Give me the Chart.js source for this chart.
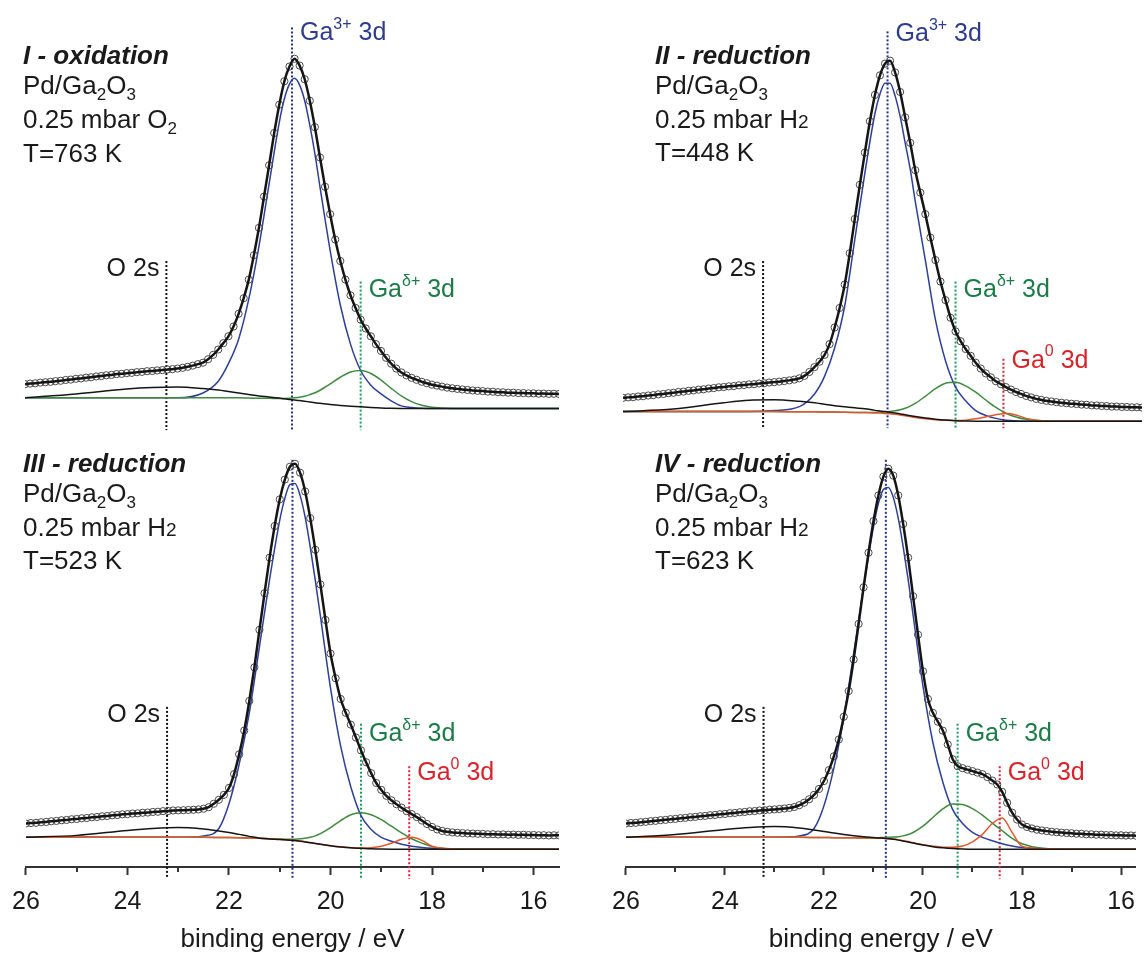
<!DOCTYPE html>
<html>
<head>
<meta charset="utf-8">
<title>Ga 3d region</title>
<script src="https://cdn.jsdelivr.net/npm/chart.js@4.4.1/dist/chart.umd.min.js"></script>
<style>
  html, body { margin: 0; padding: 0; background: #fff; }
  body { width: 1147px; height: 955px; position: relative; overflow: hidden;
         font-family: "Liberation Sans", Arial, sans-serif; color: #1a1a1a; }
  canvas { position: absolute; }
  .info { position: absolute; font-size: 26px; line-height: 30px; white-space: nowrap; }
  .info b { font-style: italic; }
  .info .sb { font-size: 17px; position: relative; top: 6px; }
  .info .sm { font-size: 19px; }
</style>
</head>
<body>
<canvas id="c1" width="575" height="440" style="left:0;top:0"></canvas>
<canvas id="c2" width="547" height="440" style="left:600px;top:0"></canvas>
<canvas id="c3" width="575" height="515" style="left:0;top:440px"></canvas>
<canvas id="c4" width="547" height="515" style="left:600px;top:440px"></canvas>

<div class="info" style="left:23px;top:40px"><b>I - oxidation</b><br>Pd/Ga<span class="sb">2</span>O<span class="sb">3</span><br>0.25 mbar O<span class="sb">2</span><br>T=763 K</div>
<div class="info" style="left:655px;top:40px"><b>II - reduction</b><br>Pd/Ga<span class="sb">2</span>O<span class="sb">3</span><br>0.25 mbar H<span class="sm">2</span><br>T=448 K</div>
<div class="info" style="left:23px;top:448px"><b>III - reduction</b><br>Pd/Ga<span class="sb">2</span>O<span class="sb">3</span><br>0.25 mbar H<span class="sm">2</span><br>T=523 K</div>
<div class="info" style="left:655px;top:448px"><b>IV - reduction</b><br>Pd/Ga<span class="sb">2</span>O<span class="sb">3</span><br>0.25 mbar H<span class="sm">2</span><br>T=623 K</div>

<script>
// binding energy of the measured points (eV)
const dataX = [26.0, 25.9, 25.8, 25.7, 25.6, 25.5, 25.4, 25.3, 25.2, 25.1,
  25.0, 24.9, 24.8, 24.7, 24.6, 24.5, 24.4, 24.3, 24.2, 24.1,
  24.0, 23.9, 23.8, 23.7, 23.6, 23.5, 23.4, 23.3, 23.2, 23.1,
  23.0, 22.9, 22.8, 22.7, 22.6, 22.5, 22.4, 22.3, 22.2, 22.1,
  22.0, 21.9, 21.8, 21.7, 21.6, 21.5, 21.4, 21.3, 21.2, 21.1,
  21.0, 20.9, 20.8, 20.7, 20.6, 20.5, 20.4, 20.3, 20.2, 20.1,
  20.0, 19.9, 19.8, 19.7, 19.6, 19.5, 19.4, 19.3, 19.2, 19.1,
  19.0, 18.9, 18.8, 18.7, 18.6, 18.5, 18.4, 18.3, 18.2, 18.1,
  18.0, 17.9, 17.8, 17.7, 17.6, 17.5, 17.4, 17.3, 17.2, 17.1,
  17.0, 16.9, 16.8, 16.7, 16.6, 16.5, 16.4, 16.3, 16.2, 16.1,
  16.0, 15.9, 15.8, 15.7, 15.6, 15.5];

// binding energy of the fitted component curves (eV)
const compX = [26, 25, 24, 23.5, 23, 22.5, 22.2, 22, 21.8, 21.6, 21.4, 21.2, 21, 20.9, 20.8, 20.7,
  20.6, 20.5, 20.4, 20.3, 20.2, 20, 19.8, 19.6, 19.4, 19.2, 19, 18.8, 18.6, 18.4, 18.2, 18, 17.6, 17, 15.5];

// I - oxidation
const dataI = [25, 25.6, 25.9, 26.6, 27, 27.4, 28.1, 28.5, 29.3, 29.7,
  30.5, 30.9, 31.7, 32.1, 32.9, 33.3, 34.1, 34.5, 35.3, 35.6,
  36.3, 36.6, 37.3, 37.6, 38.3, 38.5, 39.1, 39.4, 40.1, 40.4,
  41, 41.8, 42.8, 44, 45.5, 47, 50.5, 55, 60.5, 67,
  74, 84, 97, 113, 132, 157, 185, 217, 249, 282,
  311, 335, 350, 358, 351, 337, 315, 288, 257, 227,
  199, 173, 151, 132, 116, 103, 91, 82, 74, 66,
  59, 52, 46, 41, 37, 34, 31.5, 29.5, 27.5, 26,
  24.5, 23.5, 22.5, 21.5, 20.8, 20.2, 19.6, 19.1, 18.6, 18.2,
  17.9, 17.4, 17.3, 16.8, 16.7, 16.3, 16.3, 15.9, 15.9, 15.6,
  15.6, 15.3, 15.4, 15.1, 15.2, 15];
const blueI = [11, 11, 11, 11, 11, 16, 28, 46, 71, 112, 166, 230, 293, 317, 332, 338,
  331, 315, 290, 261, 227, 162, 106, 66, 39, 24, 15, 8, 2.8, 1.1, 0.3, 0, 0, 0, 0];
const greenI = [11, 11, 11, 11, 11, 11, 11, 11, 11, 10.8, 10.6, 10.5, 10.3, 10.4, 10.6, 11,
  11.6, 12.7, 14.3, 16.2, 18.8, 25.2, 32.1, 37.4, 38.9, 35.9, 29.2, 20.8, 13.1, 7.2, 3.4, 1.5, 0.2, 0, 0];
const o2sI = [11, 15, 20, 21.5, 22, 20.5, 19, 17.5, 16, 14.5, 13, 12, 10.8, 10, 9.4, 8.8,
  8.2, 7.5, 6.8, 6.1, 5.4, 4.3, 3.3, 2.5, 1.8, 1.2, 0.7, 0.4, 0.2, 0.1, 0, 0, 0, 0, 0];

// II - reduction 448 K
const dataII = [24, 24.5, 24.7, 25.4, 25.7, 26.4, 26.8, 27.6, 28, 28.8,
  29.2, 30, 30.4, 31.2, 31.6, 32.4, 32.8, 33.6, 34, 34.8,
  35.1, 35.8, 36.1, 36.8, 37.1, 37.8, 38, 38.7, 39, 39.7,
  40.1, 40.6, 41.2, 41.9, 42.7, 44, 46.5, 50.5, 55.5, 61,
  68, 79, 96, 116, 140, 172, 207, 242, 275, 307,
  334, 354, 366, 369, 357, 337, 311, 285, 257, 234,
  212, 188, 165, 143, 124, 106, 92, 82, 74, 67,
  60, 54, 49, 45, 41, 38, 35, 32.5, 30, 28,
  26, 24.5, 23, 22, 21, 20.3, 19.6, 19, 18.5, 18,
  17.7, 17.1, 16.9, 16.3, 16.2, 15.7, 15.6, 15.1, 15.1, 14.7,
  14.7, 14.3, 14.4, 14.1, 14.2, 14];
const blueII = [10, 10, 10, 10, 11, 15, 28, 46, 75, 118, 186, 254, 315, 335, 346, 346,
  333, 312, 285, 258, 225, 165, 104, 62, 35, 21, 11, 6, 3, 1.2, 0.4, 0, 0, 0, 0];
const greenII = [10, 10, 10, 10, 10, 9.8, 9.7, 9.6, 9.5, 9.3, 9.1, 8.9, 9.1, 9.3, 9.6, 10.1,
  10.7, 11.8, 13.3, 15.5, 18.3, 25.6, 33.4, 38.9, 39.9, 36.3, 29.8, 21.8, 14.3, 8.3, 4.4, 2.0, 0.3, 0, 0];
const redII = [10, 10, 10, 10, 10, 9.8, 9.7, 9.6, 9.5, 9.3, 9.1, 8.9, 8.6, 8.4, 8.1, 7.7,
  7.1, 6.4, 5.6, 4.8, 4.0, 2.7, 1.7, 1.0, 0.8, 1.2, 2.6, 4.6, 6.8, 8, 6.5, 3, 0.4, 0, 0];
const o2sII = [10, 12.5, 19, 21.5, 22, 20.5, 19, 17.5, 16, 14.8, 13.8, 12.9, 11.2, 10.6, 10, 9.3,
  8.5, 7.6, 6.7, 5.8, 4.9, 3.4, 2.2, 1.3, 0.7, 0.3, 0.1, 0, 0, 0, 0, 0, 0, 0, 0];

// III - reduction 523 K
const dataIII = [26, 26.5, 26.7, 27.3, 27.6, 28.3, 28.6, 29.3, 29.6, 30.3,
  30.6, 31.3, 31.6, 32.3, 32.6, 33.3, 33.6, 34.3, 34.6, 35.3,
  35.5, 36.1, 36.3, 36.9, 37.1, 37.7, 37.9, 38.5, 38.7, 39.2,
  39.3, 39.5, 39.7, 39.9, 40.3, 41, 42.5, 46, 50, 55,
  62, 76, 96, 120, 150, 184, 222, 259, 295, 327,
  354, 374, 387, 390, 381, 362, 335, 303, 268, 232,
  198, 173, 152, 138, 126, 113, 100, 88, 77, 67,
  60, 54, 49.5, 45.5, 42, 38.5, 35.5, 32.5, 29, 25.5,
  22.5, 20, 18.5, 17.6, 17, 16.6, 16.3, 16, 15.8, 15.6,
  15.5, 15.1, 15.2, 14.9, 15, 14.7, 14.8, 14.5, 14.6, 14.3,
  14.4, 14.1, 14.2, 13.9, 14.1, 14];
const blueIII = [12, 12, 12, 12, 12, 13.5, 21, 46, 86, 138, 205, 273, 333, 355, 369, 370,
  358, 336, 306, 272, 236, 163, 104, 63, 34, 20, 12, 8, 5, 3, 1.8, 1, 0.3, 0, 0];
const greenIII = [12, 12, 12, 12, 12, 12, 11.9, 11.8, 11.6, 11.3, 11, 10.6, 10.3, 10.1, 10.0, 10.2,
  10.5, 11.0, 12.0, 13.5, 15.7, 21.8, 29.0, 34.9, 37.0, 34.9, 29.9, 23.3, 16.5, 10.6, 6.2, 2.6, 0.5, 0, 0];
const redIII = [12, 12, 12, 12, 12, 12, 11.9, 11.8, 11.6, 11.3, 11, 10.6, 10, 9.6, 9.2, 8.8,
  8.2, 7.5, 6.7, 5.9, 5.1, 3.6, 2.4, 1.5, 1.2, 1.6, 3, 6, 10, 12, 9, 3, 0.3, 0, 0];
const o2sIII = [12, 14, 19, 21, 22, 20.5, 18.5, 17, 15, 13, 11.2, 10.4, 9.9, 9.5, 9.1, 8.7,
  8.1, 7.4, 6.6, 5.8, 5.0, 3.5, 2.3, 1.4, 0.9, 0.4, 0.1, 0, 0, 0, 0, 0, 0, 0, 0];

// IV - reduction 623 K
const dataIV = [26, 26.5, 26.7, 27.4, 27.7, 28.4, 28.7, 29.4, 29.7, 30.4,
  30.7, 31.4, 31.7, 32.4, 32.7, 33.4, 33.7, 34.4, 34.7, 35.4,
  35.7, 36.4, 36.7, 37.4, 37.7, 38.4, 38.6, 39.2, 39.4, 40,
  40.3, 40.7, 41.2, 41.8, 42.7, 44.5, 47, 50.5, 55, 61,
  69, 80, 94, 111, 134, 160, 192, 228, 265, 300,
  332, 358, 377, 385, 378, 358, 329, 295, 256, 217,
  180, 152, 138, 129, 120, 106, 91, 84, 82, 80.5,
  79, 77.5, 76, 73, 69.5, 65.5, 58, 47, 37, 30,
  25, 22.5, 21, 19.8, 19, 18.3, 17.7, 17.2, 16.8, 16.4,
  16.2, 15.7, 15.6, 15.1, 15.1, 14.7, 14.7, 14.3, 14.3, 14,
  14.1, 13.8, 13.9, 13.7, 13.8, 13.7];
const blueIV = [12, 12, 12, 12, 12, 13.5, 21, 44, 82, 133, 198, 265, 326, 350, 364, 366,
  356, 335, 306, 273, 237, 165, 108, 68, 40, 26, 17, 12, 8.5, 5.5, 3.3, 1.8, 0.6, 0, 0];
const greenIV = [12, 12, 12, 12, 12, 12, 11.9, 11.8, 11.7, 11.6, 11.5, 11.4, 11.3, 11.6, 11.8, 12.0,
  12.3, 12.7, 13.5, 14.9, 16.9, 23.3, 32.1, 40.8, 45.7, 45.2, 41, 34.4, 26.4, 18.7, 11, 5.5, 1, 0, 0];
const redIV = [12, 12, 12, 12, 12, 12, 11.9, 11.8, 11.7, 11.6, 11.5, 11.4, 11.3, 11.2, 11.1, 10.8,
  10.3, 9.6, 8.7, 7.7, 6.6, 4.6, 3.1, 2.1, 2.0, 3.2, 7.5, 15, 26, 31.5, 17, 3, 0.5, 0, 0];
const o2sIV = [12, 15, 20, 22, 23, 21.5, 19.5, 18, 16.3, 14.8, 13.6, 12.6, 11.8, 11.4, 11.1, 10.6,
  10, 9.2, 8.2, 7.2, 6.2, 4.2, 2.6, 1.4, 0.6, 0.2, 0, 0, 0, 0, 0, 0, 0, 0, 0];

// peak positions marked with dotted lines (eV)
const posO2s = 23.22, posGa3 = 20.75, posGaD = 19.4, posGaD4 = 19.3, posGa0 = 18.45;
const tickLabels = [26, 24, 22, 20, 18, 16];

const FONT = '"Liberation Sans", Arial, sans-serif';
const cBlue = '#2d3f99', cGreen = '#3f8a3f', cRed = '#e4572e', cBlack = '#151515', cData = '#4a4a4a';
const dBlack = '#111', dBlue = '#24328a', dGreen = '#1f9a5e', dRed = '#e3203a';
const lBlue = '#2e3c8f', lGreen = '#1b7c48', lRed = '#d8232a', lBlack = '#1a1a1a';

const GA3 = [['Ga', 0], ['3+', 1], [' 3d', 0]];
const GAD = [['Ga', 0], ['\u03b4+', 1], [' 3d', 0]];
const GA0 = [['Ga', 0], ['0', 1], [' 3d', 0]];
const O2S = [['O 2s', 0]];

function pts(xs, ys) {
  return xs.map((x, i) => ({ x: x, y: ys[i] }));
}

function curve(xs, ys, color, width) {
  return { data: pts(xs, ys), borderColor: color, borderWidth: width, pointRadius: 0,
           cubicInterpolationMode: 'monotone', fill: false };
}

function mark(x, top, bottom, color) {
  return { data: [{ x: x, y: top }, { x: x, y: bottom }], borderColor: color, borderWidth: 2,
           borderDash: [2, 2], pointRadius: 0, clip: false };
}

function drawRich(ctx, x, y, parts, color, align) {
  const big = '25px ' + FONT, small = '16px ' + FONT;
  let w = 0;
  parts.forEach(p => { ctx.font = p[1] ? small : big; w += ctx.measureText(p[0]).width; });
  let cx = align === 'right' ? x - w : x;
  ctx.fillStyle = color;
  ctx.textBaseline = 'middle';
  ctx.textAlign = 'left';
  parts.forEach(p => {
    ctx.font = p[1] ? small : big;
    ctx.fillText(p[0], cx, p[1] ? y - 9 : y);
    cx += ctx.measureText(p[0]).width;
  });
}

// peak labels and short minor ticks
const annoPlugin = {
  id: 'anno',
  afterDraw(chart, args, o) {
    const ctx = chart.ctx, xs = chart.scales.x, ys = chart.scales.y;
    ctx.save();
    (o.labels || []).forEach(l => {
      const px = xs.getPixelForValue(l.x), py = ys.getPixelForValue(l.y);
      drawRich(ctx, l.align === 'right' ? px - 7 : px + 8, py, l.parts, l.color, l.align);
    });
    if (o.minor) {
      ctx.strokeStyle = '#333';
      ctx.lineWidth = 2;
      xs.ticks.forEach(t => {
        if (t.value % 2 !== 0) {
          const p = Math.round(xs.getPixelForValue(t.value));
          ctx.beginPath();
          ctx.moveTo(p, xs.top);
          ctx.lineTo(p, xs.top + 5);
          ctx.stroke();
        }
      });
    }
    ctx.restore();
  }
};

function makeChart(id, cfg) {
  const datasets = [
    curve(dataX, cfg.data, cBlack, 2.5),
    { data: pts(dataX, cfg.data), showLine: false, pointRadius: 3.6, pointBorderWidth: 1,
      pointBorderColor: cData, pointBackgroundColor: 'rgba(255,255,255,0)' }
  ];
  cfg.comps.forEach(c => datasets.push(curve(compX, c[0], c[1], 1.5)));
  cfg.marks.forEach(m => datasets.push(mark(m[0], m[1], m[2], m[3])));

  const xScale = { type: 'linear', reverse: true, min: cfg.xmin, max: 26, display: cfg.axis };
  if (cfg.axis) {
    Object.assign(xScale, {
      border: { display: true, color: '#333', width: 2 },
      grid: { drawOnChartArea: false, drawTicks: true, tickLength: 8, tickWidth: 2,
              tickColor: c => (c.tick && c.tick.value % 2 !== 0) ? 'rgba(0,0,0,0)' : '#333' },
      ticks: { stepSize: 1, autoSkip: false, maxRotation: 0, includeBounds: false, padding: 12,
               color: '#1a1a1a', font: { family: FONT, size: 25 },
               callback: v => tickLabels.includes(v) ? String(v) : '' },
      title: { display: true, text: 'binding energy / eV', color: '#1a1a1a',
               font: { family: FONT, size: 26, lineHeight: 1 }, padding: { top: 0, bottom: 2 } },
      afterFit: s => { s.height = 88; }
    });
  }

  new Chart(document.getElementById(id), {
    type: 'line',
    data: { datasets: datasets },
    options: {
      responsive: false, animation: false, devicePixelRatio: 1, events: [],
      layout: { padding: { left: cfg.padL, right: cfg.padR, top: 0, bottom: 0 } },
      plugins: { legend: { display: false }, tooltip: { enabled: false },
                 anno: { labels: cfg.labels, minor: cfg.axis } },
      scales: { x: xScale, y: { display: false, min: cfg.ymin, max: cfg.ymax } }
    },
    plugins: [annoPlugin]
  });
}

makeChart('c1', {
  data: dataI, xmin: 15.5, ymin: -27, ymax: 413, padL: 25, padR: 16, axis: false,
  comps: [[o2sI, cBlack], [greenI, cGreen], [blueI, cBlue]],
  marks: [[posO2s, 151, -22, dBlack], [posGa3, 390, -22, dBlue], [posGaD, 130, -22, dGreen]],
  labels: [{ x: posO2s, y: 143, parts: O2S, color: lBlack, align: 'right' },
           { x: posGa3, y: 384, parts: GA3, color: lBlue },
           { x: posGaD, y: 121, parts: GAD, color: lGreen }]
});

makeChart('c2', {
  data: dataII, xmin: 15.7, ymin: -14, ymax: 426, padL: 23, padR: 0, axis: false,
  comps: [[o2sII, cBlack], [redII, cRed], [greenII, cGreen], [blueII, cBlue]],
  marks: [[posO2s, 164, -7, dBlack], [posGa3, 399, -7, dBlue], [posGaD, 143, -7, dGreen], [posGa0, 64, -7, dRed]],
  labels: [{ x: posO2s, y: 156, parts: O2S, color: lBlack, align: 'right' },
           { x: posGa3, y: 396, parts: GA3, color: lBlue },
           { x: posGaD, y: 134, parts: GAD, color: lGreen },
           { x: posGa0, y: 62, parts: GA0, color: lRed }]
});

makeChart('c3', {
  data: dataIII, xmin: 15.5, ymin: -18, ymax: 409, padL: 25, padR: 16, axis: true,
  comps: [[o2sIII, cBlack], [redIII, cRed], [greenIII, cGreen], [blueIII, cBlue]],
  marks: [[posO2s, 144, -30, dBlack], [posGa3, 394, -30, dBlue], [posGaD, 127, -30, dGreen], [posGa0, 84, -30, dRed]],
  labels: [{ x: posO2s, y: 136, parts: O2S, color: lBlack, align: 'right' },
           { x: posGaD, y: 116, parts: GAD, color: lGreen },
           { x: posGa0, y: 77, parts: GA0, color: lRed }]
});

makeChart('c4', {
  data: dataIV, xmin: 15.7, ymin: -18, ymax: 409, padL: 23, padR: 0, axis: true,
  comps: [[o2sIV, cBlack], [redIV, cRed], [greenIV, cGreen], [blueIV, cBlue]],
  marks: [[posO2s, 144, -30, dBlack], [posGa3, 394, -30, dBlue], [posGaD4, 127, -30, dGreen], [posGa0, 84, -30, dRed]],
  labels: [{ x: posO2s, y: 136, parts: O2S, color: lBlack, align: 'right' },
           { x: posGaD4, y: 116, parts: GAD, color: lGreen },
           { x: posGa0, y: 77, parts: GA0, color: lRed }]
});
</script>
</body>
</html>
